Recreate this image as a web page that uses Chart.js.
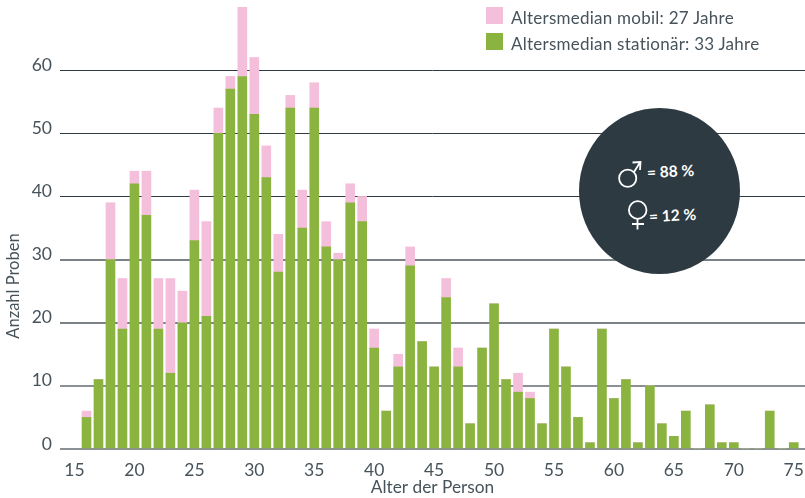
<!DOCTYPE html>
<html lang="de">
<head>
  <meta charset="UTF-8">
  <title>Altersverteilung</title>
  <script src="https://cdn.jsdelivr.net/npm/chart.js"></script>
  <style>
    html, body { margin: 0; padding: 0; background: #ffffff; }
    body { width: 805px; height: 498px; overflow: hidden; position: relative; font-family: Lato, sans-serif; color: #47535b; }
    #wrap { position: absolute; left: 0; top: 0; width: 805px; height: 498px; }
    .legend { position: absolute; left: 486px; font-size: 17px; line-height: 20px; letter-spacing: 0.25px; white-space: nowrap; }
    .legend i { position: absolute; left: 0; top: 0; width: 17px; height: 17px; }
    .legend span { position: absolute; left: 25px; top: 1px; }
    #circle { position: absolute; left: 579px; top: 108px; width: 161px; height: 166px; border-radius: 50%; background: #2d3a42; }
    .sex { position: absolute; color: #ffffff; font-weight: 700; font-size: 15.5px; white-space: nowrap; transform: rotate(-3deg); }
    svg { position: absolute; left: 0; top: 0; }
  </style>
</head>
<body>
  <div id="wrap"><canvas id="chart" width="805" height="498"></canvas></div>
  <div class="legend" style="top:7px"><i style="background:#f4bfda"></i><span id="lg1"></span></div>
  <div class="legend" style="top:33px"><i style="background:#8ab43f"></i><span id="lg2"></span></div>
  <div id="circle"></div>
  <svg width="805" height="498" fill="none" stroke="#ffffff" stroke-width="1.8">
    <circle cx="627.7" cy="178.3" r="8.6"/>
    <path d="M634 172 L640 162.5 M632.5 162.5 L640.5 162 L640 170"/>
    <circle cx="637.7" cy="210" r="8.8"/>
    <path d="M637.5 219 V229.5 M632 224 H644"/>
  </svg>
  <div class="sex" style="left:647px;top:162px">= 88 %</div>
  <div class="sex" style="left:649px;top:206px">= 12 %</div>

  <script>
  const ages = [16,17,18,19,20,21,22,23,24,25,26,27,28,29,30,31,32,33,34,35,36,37,38,39,40,41,42,43,44,45,
    46,47,48,49,50,51,52,53,54,55,56,57,58,59,60,61,62,63,64,65,66,67,68,69,70,71,72,73,74,75];
  const stationaer = [5,11,30,19,42,37,19,12,20,33,21,50,57,59,53,43,28,54,35,54,32,30,39,36,16,6,13,29,17,13,
    24,13,4,16,23,11,9,8,4,19,13,5,1,19,8,11,1,10,4,2,6,0,7,1,1,0,0,6,0,1];
  const mobil = [1,0,9,8,2,7,8,15,5,8,15,4,2,11,9,5,6,2,6,4,4,1,3,4,3,0,2,3,0,0,
    3,3,0,0,0,0,3,1,0,0,0,0,0,0,0,0,0,0,0,0,0,0,0,0,0,0,0,0,0,0];
  const xTicks = [15,20,25,30,35,40,45,50,55,60,65,70,75];
  const yTicks = [0,10,20,30,40,50,60];
  const nameMobil = 'Altersmedian mobil: 27 Jahre';
  const nameStationaer = 'Altersmedian stationär: 33 Jahre';

  document.getElementById('lg1').textContent = nameMobil;
  document.getElementById('lg2').textContent = nameStationaer;

  const textColor = '#47535b';
  const tickFont = { family: 'Lato', size: 17.5 };

  // y title sits lower than the axis centre in the original
  const yTitle = {
    id: 'yTitle',
    afterDraw(chart) {
      const c = chart.ctx;
      c.save();
      c.translate(14, 286);
      c.rotate(-Math.PI / 2);
      c.font = '16.5px Lato';
      c.fillStyle = textColor;
      c.textAlign = 'center';
      c.textBaseline = 'middle';
      c.fillText('Anzahl Proben', 0, 0);
      c.restore();
    }
  };

  new Chart(document.getElementById('chart'), {
    type: 'bar',
    data: {
      datasets: [
        { label: nameStationaer, data: ages.map((a, i) => ({ x: a, y: stationaer[i] })), backgroundColor: '#8ab43f', barThickness: 9 },
        { label: nameMobil, data: ages.map((a, i) => ({ x: a, y: mobil[i] })), backgroundColor: '#f4bfda', barThickness: 9 }
      ]
    },
    options: {
      responsive: false,
      animation: false,
      layout: { padding: { top: 7 } },
      plugins: { legend: { display: false }, tooltip: { enabled: false } },
      scales: {
        x: {
          type: 'linear',
          stacked: true,
          offset: false,
          min: 13.79,
          max: 75.94,
          afterBuildTicks: axis => { axis.ticks = xTicks.map(v => ({ value: v })); },
          afterFit: axis => { axis.height = 49; axis.paddingLeft = 0; axis.paddingRight = 0; },
          grid: { display: false },
          border: { display: false },
          ticks: { color: textColor, font: tickFont, maxRotation: 0, autoSkip: false, padding: 3 },
          title: { display: true, text: 'Alter der Person', color: textColor, font: { family: 'Lato', size: 17.3 }, padding: { top: 2, bottom: 0 } }
        },
        y: {
          stacked: true,
          min: 0,
          max: 70,
          afterBuildTicks: axis => { axis.ticks = yTicks.map(v => ({ value: v })); },
          afterFit: axis => { axis.width = 60; axis.paddingTop = 0; axis.paddingBottom = 0; },
          grid: {
            color: c => c.tick.value >= 40 ? '#2d3a42' : (c.tick.value >= 20 ? '#7b8286' : '#8b9094'),
            lineWidth: c => c.tick.value >= 40 ? 1 : 2,
            drawTicks: false
          },
          border: { display: false },
          ticks: { color: textColor, font: tickFont, padding: 8, labelOffset: -5 }
        }
      }
    },
    plugins: [yTitle]
  });
  </script>
</body>
</html>
